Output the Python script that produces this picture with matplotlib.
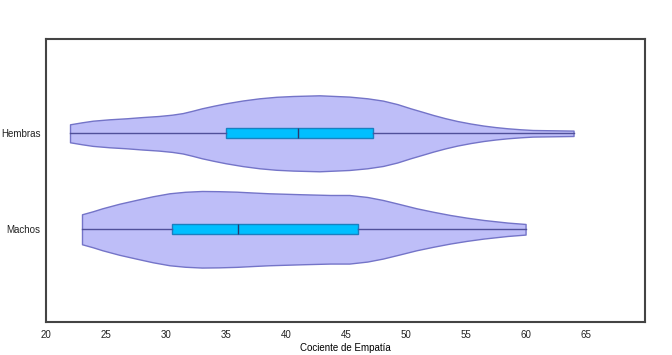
import numpy as np
import matplotlib.pyplot as plt

# valores
grupos = ['Machos', 'Hembras']

# perfil de densidad (mitad del ancho en px) a lo largo del cociente
hembras_x = [22, 23.0, 23.9, 25.3, 26.7, 28.0, 29.4, 30.5, 31.4, 32.2, 33.0,
             34.0, 35.0, 36.4, 37.8, 39.2, 40.6, 42.8, 45.3, 46.8, 48.1,
             49.3, 50.4, 51.4, 52.3, 53.3, 54.3, 55.4, 56.5, 57.5, 58.5,
             59.6, 60.6, 64]
hembras_w = [9.0, 11.0, 12.6, 14.0, 15.0, 16.2, 17.3, 18.6, 20.2, 22.5, 25.0,
             27.6, 30.0, 32.8, 35.0, 36.5, 37.3, 38.0, 36.7, 35.0, 32.7,
             29.2, 25.0, 21.5, 18.3, 15.1, 12.3, 9.8, 7.7, 6.2, 5.0,
             4.0, 3.3, 2.7]
machos_x = [23, 23.9, 24.7, 26.1, 27.5, 28.9, 30.3, 31.6, 33.0, 34.4, 35.9,
            37.2, 38.6, 40.0, 41.4, 43.7, 45.3, 46.8, 48.1, 49.5, 50.9,
            52.3, 53.7, 55.1, 56.5, 57.5, 58.5, 60]
machos_w = [15.0, 18.0, 21.0, 25.5, 29.3, 33.0, 36.0, 37.5, 38.3, 38.1, 37.6,
            36.8, 36.0, 35.5, 35.0, 34.3, 34.3, 32.3, 29.3, 25.2, 21.0,
            17.5, 14.3, 11.6, 9.3, 8.0, 6.7, 5.3]

# caja: minimo, q1, mediana, q3, maximo
hembras_box = [22, 35.0, 41.0, 47.3, 64]
machos_box = [23, 30.5, 36.0, 46.0, 60]


def main():
    plt.rcParams['font.family'] = ['Liberation Sans', 'DejaVu Sans']
    fig = plt.figure(figsize=(6.72, 3.55), dpi=100)
    ax = fig.add_axes([0.0685, 0.093, 0.892, 0.797])

    px_unidad = 96.0
    perfiles = [(machos_x, machos_w), (hembras_x, hembras_w)]
    cajas = [machos_box, hembras_box]
    vpstats = []
    anchos = []
    for (xs, ws), b in zip(perfiles, cajas):
        vpstats.append({'coords': np.array(xs, float),
                        'vals': np.array(ws, float),
                        'mean': np.mean(xs), 'median': b[2],
                        'min': b[0], 'max': b[4]})
        anchos.append(2 * max(ws) / px_unidad)

    parts = ax.violin(vpstats, positions=[0, 1], widths=anchos,
                      orientation='horizontal', showextrema=False)
    for body in parts['bodies']:
        body.set_facecolor('#bebef8')
        body.set_edgecolor('#7474c8')
        body.set_alpha(1)
        body.set_linewidth(1)
        body.set_joinstyle('round')

    stats = []
    for b, name in zip(cajas, grupos):
        stats.append({'whislo': b[0], 'q1': b[1], 'med': b[2],
                      'q3': b[3], 'whishi': b[4], 'fliers': [],
                      'label': name})
    ax.bxp(stats, positions=[0, 1], widths=0.1, orientation='horizontal',
           patch_artist=True, showcaps=False,
           boxprops=dict(facecolor='#00bfff', edgecolor='#1a80c0',
                         linewidth=1),
           medianprops=dict(color='#2a3a70', linewidth=1),
           whiskerprops=dict(color='#50509a', linewidth=1))

    ax.set_xlim(20, 70)
    ax.set_ylim(-0.966, 1.982)
    ax.set_xticks(np.arange(20, 66, 5))
    ax.set_yticks([0, 1])
    ax.set_yticklabels(grupos)
    ax.tick_params(length=0, labelsize=7, colors='#222222')
    ax.tick_params(axis='y', pad=4, labelsize=7)
    ax.tick_params(axis='x', pad=6)
    for s in ax.spines.values():
        s.set_color('#444444')
        s.set_linewidth(1.5)
    ax.set_xlabel('Cociente de Empatía', fontsize=7, labelpad=2)

    fig.savefig('out.png', dpi=100)


if __name__ == "__main__":
    main()
